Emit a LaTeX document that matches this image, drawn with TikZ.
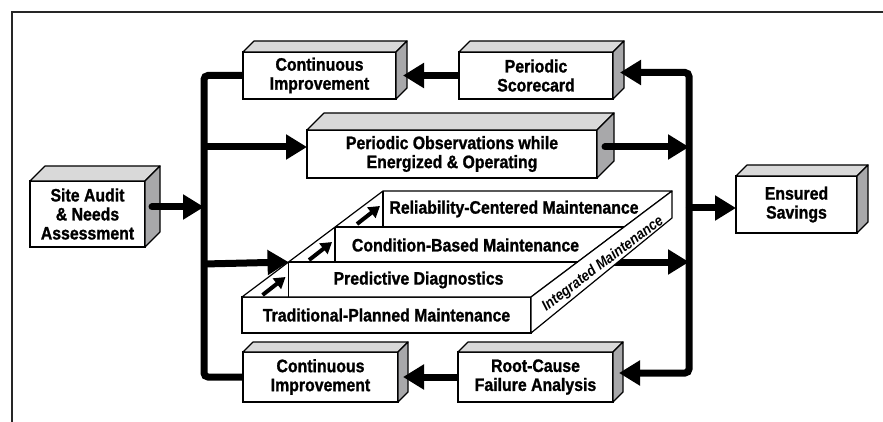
\documentclass[tikz,border=0pt]{standalone}
\usepackage{fontspec}
\setmainfont{Liberation Sans}[FakeStretch=0.88, BoldFeatures={FakeBold=1.2}]
\usetikzlibrary{arrows.meta, calc, positioning}

\definecolor{topgray}{RGB}{217,217,217}
\definecolor{sidegray}{RGB}{168,168,170}
\newcommand{\boxfont}{\fontsize{18}{19}\selectfont\bfseries}
\newcommand{\slabfont}{\fontsize{15}{16}\selectfont\bfseries\itshape}
\tikzset{boxline/.style={draw=black, line width=1.2pt, line join=round}}
% top and right faces of a box node
\newcommand{\boxsides}[2]{%
	\draw[boxline, fill=topgray] (#1.north west) -- ++(#2,-#2) -- ($(#1.north east)+(#2,-#2)$) -- (#1.north east) -- cycle;
	\draw[boxline, fill=sidegray] (#1.north east) -- ++(#2,-#2) -- ($(#1.south east)+(#2,-#2)$) -- (#1.south east) -- cycle;
}

\begin{document}
\begin{tikzpicture}[x=1pt, y=-1pt]
	\tikzstyle{box} = [rectangle, draw=black, line width=1.2pt, fill=white, inner sep=0pt, outer sep=0pt, align=center, font=\boxfont]
	\tikzstyle{steptext} = [inner sep=0pt, font=\boxfont]
	\tikzstyle{flow} = [line width=7pt, -{Triangle[length=21pt, width=24pt]}]
	\tikzstyle{bus} = [line width=7pt, rounded corners=4pt]
	\tikzstyle{stepflow} = [line width=4pt, -{Triangle[length=11pt, width=13pt]}]
	\tikzstyle{frame} = [line width=1.5pt, black!85]
	\useasboundingbox (0,0) rectangle (883,422);
	\draw[frame] (883,12) -- (12,12) -- (12,422);

	\node (ciTop) [box, minimum width=153pt, minimum height=47pt] at (319.5,75.5) {Continuous\\Improvement};
	\node (scoreCard) [box, minimum width=154pt, minimum height=47pt, right=63pt of ciTop] {Periodic\\Scorecard};
	\node (observe) [box, minimum width=290pt, minimum height=48pt] at (452,154) {Periodic Observations while\\Energized \& Operating};
	\node (siteAudit) [box, minimum width=115pt, minimum height=66pt] at (87.5,214) {Site Audit\\\& Needs\\Assessment};
	\node (savings) [box, minimum width=121pt, minimum height=57pt] at (796.5,204.5) {Ensured\\Savings};
	\node (ciBot) [box, minimum width=155pt, minimum height=50pt] at (320.5,377) {Continuous\\Improvement};
	\node (rootCause) [box, minimum width=155pt, minimum height=50pt, right=60pt of ciBot] {Root-Cause\\Failure Analysis};
	\boxsides{ciTop}{11}
	\boxsides{scoreCard}{11}
	\boxsides{observe}{17}
	\boxsides{siteAudit}{15}
	\boxsides{savings}{11}
	\boxsides{ciBot}{10}
	\boxsides{rootCause}{10}

	% bus lines
	\coordinate (busL) at (204,214);
	\coordinate (busR) at (689,208);
	\coordinate (busObs) at (204,147);
	\coordinate (busInt) at (204,264);
	\coordinate (sideIn) at (600,262);

	% integrated maintenance slab
	\draw[flow] (sideIn) -- (busR |- sideIn);
	\node (tradPlan) [box, minimum width=289pt, minimum height=36pt] at (386.5,315) {Traditional-Planned Maintenance};
	\coordinate (c0) at (tradPlan.north west);
	\coordinate (c3) at ($(tradPlan.north west)+(141,-106)$);
	\coordinate (backTop) at ($(tradPlan.north east)+(141,-106)$);
	\coordinate (backBot) at ($(tradPlan.south east)+(141,-115)$);
	\coordinate (c1) at ($(c0)!0.33!(c3)$);
	\coordinate (c2) at ($(c0)!0.66!(c3)$);
	\coordinate (r1) at ($(tradPlan.north east)!0.33!(backTop)$);
	\coordinate (r2) at ($(tradPlan.north east)!0.66!(backTop)$);
	\draw[boxline, fill=white] (c0) -- (c3) -- (backTop) -- (tradPlan.north east) -- cycle;
	\draw[boxline, fill=white] (tradPlan.north east) -- (backTop) -- (backBot) -- (tradPlan.south east) -- cycle;
	\draw[boxline] (c1) -- (r1) (c1) -- (c1 |- c0);
	\draw[boxline] (c2) -- (r2) (c2) -- (c2 |- c1);
	\draw[boxline] (c3) -- (c3 |- c2);
	\node (relCent) [steptext] at (514,209) {Reliability-Centered Maintenance};
	\node (condBased) [steptext] at (465.5,245) {Condition-Based Maintenance};
	\node (predDiag) [steptext] at (418.5,280) {Predictive Diagnostics};
	\node (integrated) [inner sep=0pt, font=\slabfont, rotate=37] at (603,264) {Integrated Maintenance};
	\foreach \c in {c1,c2,c3}
		\draw[stepflow] ($(\c)+(-26,33)$) -- ($(\c)+(-3,15)$);

	\draw[bus] (ciTop.west) -| (busL) |- (ciBot.west);
	\draw[flow, line cap=round] ([xshift=7pt,yshift=7pt]siteAudit.east) -- (busL |- 0,207);
	\draw[flow] (busObs) -- (busObs -| observe.west);
	\draw[flow] (busInt) -- (c1);
	\draw[flow, line cap=round] ([xshift=8pt,yshift=7pt]observe.east) -- (busR |- 0,147);
	\draw[flow, rounded corners=4pt] (busR) |- ([xshift=7pt,yshift=3pt]scoreCard.east);
	\draw[flow, rounded corners=4pt] (busR) |- ([xshift=6pt,yshift=4pt]rootCause.east);
	\draw[flow] (busR) -- (busR -| savings.west);
	\draw[flow] (scoreCard.west) -- ([xshift=7pt]ciTop.east);
	\draw[flow] (rootCause.west) -- ([xshift=5pt]ciBot.east);
\end{tikzpicture}
\end{document}
